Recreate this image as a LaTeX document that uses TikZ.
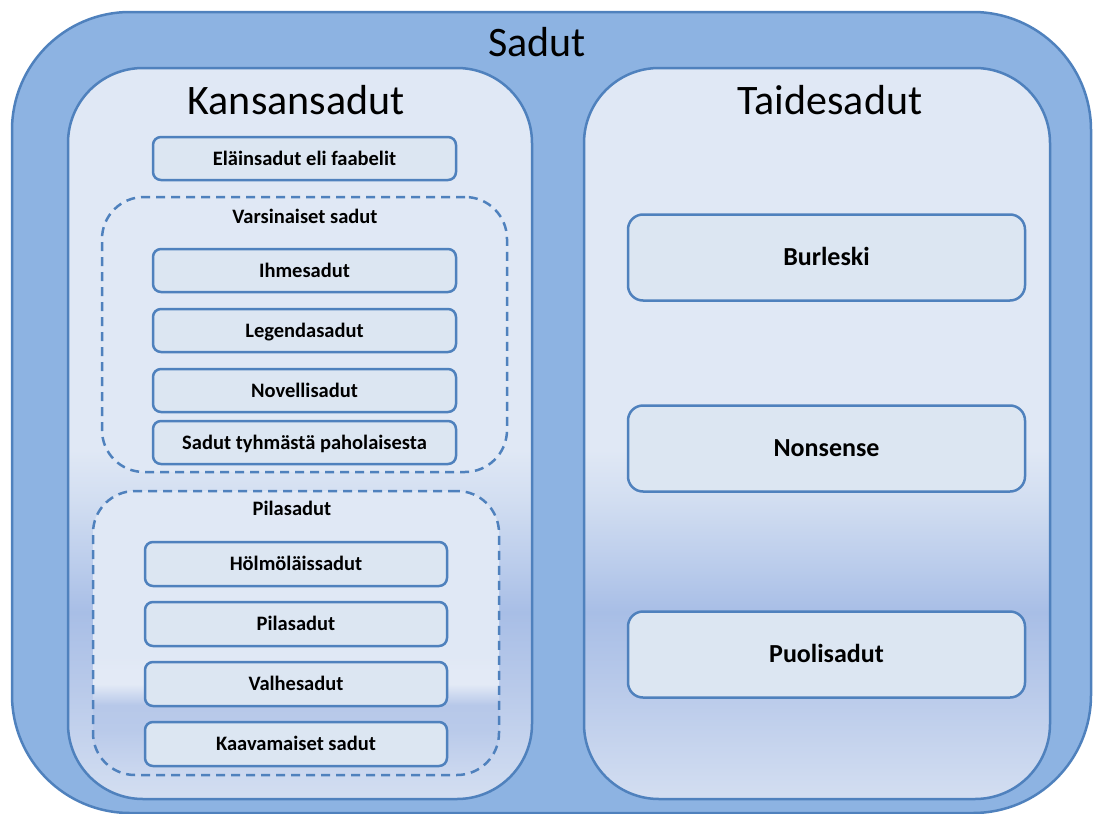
\documentclass[tikz,border=0pt]{standalone}
\usepackage{fontspec}
\setmainfont{Carlito}
\usepackage{xcolor}
\usepackage{tikz}
\usetikzlibrary{positioning}

\definecolor{rim}{HTML}{4F81BD}
\definecolor{outerblue}{HTML}{8DB3E2}
\definecolor{boxfill}{HTML}{DCE6F2}
\definecolor{plight}{HTML}{E0E8F5}
\definecolor{pmidA}{HTML}{D2DEF1}
\definecolor{pmidB}{HTML}{B9CBEB}
\definecolor{pdark}{HTML}{A8BEE6}
\definecolor{pmidC}{HTML}{B9CAEA}
\definecolor{pbot}{HTML}{D3DEF1}
\definecolor{gband}{HTML}{E3EAF6}
\definecolor{gdark}{HTML}{B7C8E9}
\definecolor{gbot}{HTML}{CCD8EF}

\pgfdeclareverticalshading{panelshade}{100bp}{color(0bp)=(pbot); color(25bp)=(pbot);
  color(32.5bp)=(pmidC); color(37.8bp)=(pdark); color(40.7bp)=(pmidB);
  color(45.5bp)=(pmidA); color(48.9bp)=(plight); color(75bp)=(plight); color(100bp)=(plight)}
\pgfdeclareverticalshading{pilashade}{100bp}{color(0bp)=(gbot); color(25bp)=(gbot);
  color(33bp)=(pmidC); color(37.3bp)=(gdark); color(41bp)=(gband); color(43bp)=(gband);
  color(46bp)=(plight); color(75bp)=(plight); color(100bp)=(plight)}

\begin{document}
\begin{tikzpicture}[x=1pt, y=-1pt,
  outerbox/.style={draw=rim, line width=2.5pt, fill=outerblue, rounded corners=118pt,
                   inner sep=0pt, outer sep=0pt},
  panel/.style={draw=rim, line width=2.5pt, shading=panelshade, rounded corners=75pt,
                minimum height=731pt, inner sep=0pt, outer sep=0pt},
  group/.style={draw=rim, line width=2.5pt, dash pattern=on 9pt off 6pt, rounded corners=42pt,
                inner sep=0pt, outer sep=0pt},
  sbox/.style={draw=rim, line width=2.5pt, fill=boxfill, rounded corners=8pt,
               minimum width=303pt, minimum height=43pt, inner sep=0pt, outer sep=0pt,
               font=\fontsize{20.5}{24}\selectfont\bfseries, text height=13pt, text depth=0pt},
  bbox/.style={draw=rim, line width=2.5pt, fill=boxfill, rounded corners=15pt,
               minimum width=397pt, minimum height=86pt, inner sep=0pt, outer sep=0pt,
               font=\fontsize{26}{30}\selectfont\bfseries, text height=16.5pt, text depth=0pt},
  title/.style={font=\fontsize{42}{50}\selectfont, inner sep=0pt, text height=26.5pt, text depth=0pt},
  glabel/.style={font=\fontsize{20.5}{24}\selectfont\bfseries, inner sep=0pt,
                 text height=13pt, text depth=0pt},
]
\useasboundingbox (0,0) rectangle (1093,814);

% frames
\node[outerbox, minimum width=1079pt, minimum height=801pt] (sadut) at (551.5,412.5) {};
\node[title] (sadutT) at (537,43.5) {Sadut};
\node[panel, minimum width=464pt] (kansa) at (300,433.5) {};
\node[panel, minimum width=466pt] (taide) at (817,433.5) {};
\node[title] (kansaT) at (296,101) {Kansansadut};
\node[title] (taideT) at (830,101) {Taidesadut};

% Kansansadut
\node[sbox] (elain) at (304.5,158.5) {Eläinsadut eli faabelit};
\node[group, fill=plight, minimum width=405pt, minimum height=275pt] (varsin) at (304.5,334.5) {};
\node[glabel] (varsinT) at (305,217) {Varsinaiset sadut};
\node[sbox] (ihme) at (304.5,270.5) {Ihmesadut};
\node[sbox, below=17pt of ihme] (legenda) {Legendasadut};
\node[sbox, below=17pt of legenda] (novelli) {Novellisadut};
\node[sbox, below=9pt of novelli] (tyhma) {Sadut tyhmästä paholaisesta};

\node[group, shading=pilashade, minimum width=406pt, minimum height=284pt] (pila) at (296,633) {};
\node[glabel] (pilaT) at (292,509) {Pilasadut};
\node[sbox, minimum width=302pt, minimum height=44pt] (holmo) at (296,564) {Hölmöläissadut};
\node[sbox, minimum width=302pt, minimum height=44pt, below=16pt of holmo] (pilas) {Pilasadut};
\node[sbox, minimum width=302pt, minimum height=44pt, below=16pt of pilas] (valhe) {Valhesadut};
\node[sbox, minimum width=302pt, minimum height=44pt, below=16pt of valhe] (kaava) {Kaavamaiset sadut};

% Taidesadut
\node[bbox] (burleski) at (826.5,257.5) {Burleski};
\node[bbox, below=105pt of burleski] (nonsense) {Nonsense};
\node[bbox, below=120pt of nonsense] (puoli) {Puolisadut};
\end{tikzpicture}
\end{document}
